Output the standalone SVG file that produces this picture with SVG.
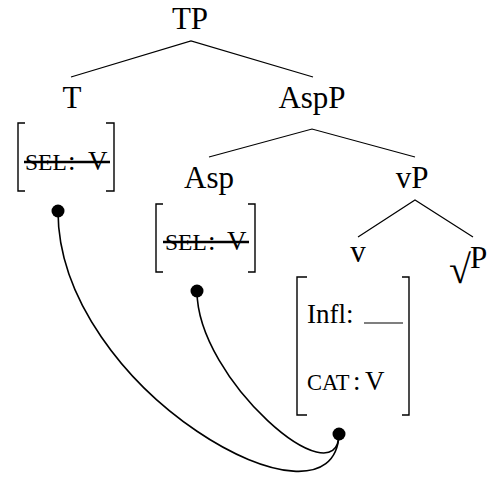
<svg xmlns="http://www.w3.org/2000/svg" width="495" height="479" viewBox="0 0 495 479" font-family="Liberation Serif, Times New Roman, serif">
<style>
.lbl{font-size:31px;text-anchor:middle}
.ft{font-size:27px}
.sc{font-size:23.5px}
.sc2{font-size:22.5px}
.br{fill:none;stroke:#000;stroke-width:1.4}
.edge{fill:none;stroke:#000;stroke-width:1.2}
.arc{fill:none;stroke:#000;stroke-width:1.6}
.strike{stroke:#000;stroke-width:2.6}
.dot{fill:#000}
</style>
<rect width="495" height="479" fill="#fff"/>
<g id="connectors">
<path class="edge" d="M71,77 L191,41 L313,77"/>
<path class="edge" d="M209,157 L312,129 L415,157"/>
<path class="edge" d="M358,237 L415,200 L473,237"/>
<path class="arc" d="M58,211 C58,390 335,545 339,434"/>
<path class="arc" d="M197,291 C197,380 338,500 339,434"/>
</g>
<g id="TP"><text class="lbl" x="190" y="29">TP</text></g>
<g id="T">
<text class="lbl" x="72" y="108">T</text>
<path class="br" d="M25,123 H18 V191 H25 M106,123 H114 V191 H106"/>
<text class="sc" x="25" y="170">SEL</text><text class="ft" x="68" y="170">:</text><text class="ft" x="88" y="170">V</text>
<line class="strike" x1="24" y1="162" x2="110" y2="162"/>
<circle class="dot" cx="58" cy="211" r="6.5"/>
</g>
<g id="AspP"><text class="lbl" x="312" y="108">AspP</text></g>
<g id="Asp">
<text class="lbl" x="209" y="188">Asp</text>
<path class="br" d="M163,204 H156 V272 H163 M248,204 H255 V272 H248"/>
<text class="sc" x="165" y="250">SEL</text><text class="ft" x="208" y="250">:</text><text class="ft" x="227" y="250">V</text>
<line class="strike" x1="163" y1="242" x2="249" y2="242"/>
<circle class="dot" cx="197" cy="291" r="6.5"/>
</g>
<g id="vP"><text class="lbl" x="412" y="188">vP</text></g>
<g id="v">
<text class="lbl" x="358" y="262">v</text>
<path class="br" d="M307,277 H297 V415 H307 M402,277 H409 V415 H402"/>
<text class="ft" x="307" y="323">Infl:</text>
<line x1="364" y1="323" x2="403" y2="323" stroke="#000" stroke-width="1.2"/>
<text class="sc2" x="307" y="390">CAT</text><text class="ft" x="353" y="390">:</text><text class="ft" x="365" y="390">V</text>
<circle class="dot" cx="339" cy="434" r="6.5"/>
</g>
<g id="rootP">
<text style="font-size:40px" x="449" y="283">√</text>
<text style="font-size:31px" x="470" y="268">P</text>
</g>
</svg>
